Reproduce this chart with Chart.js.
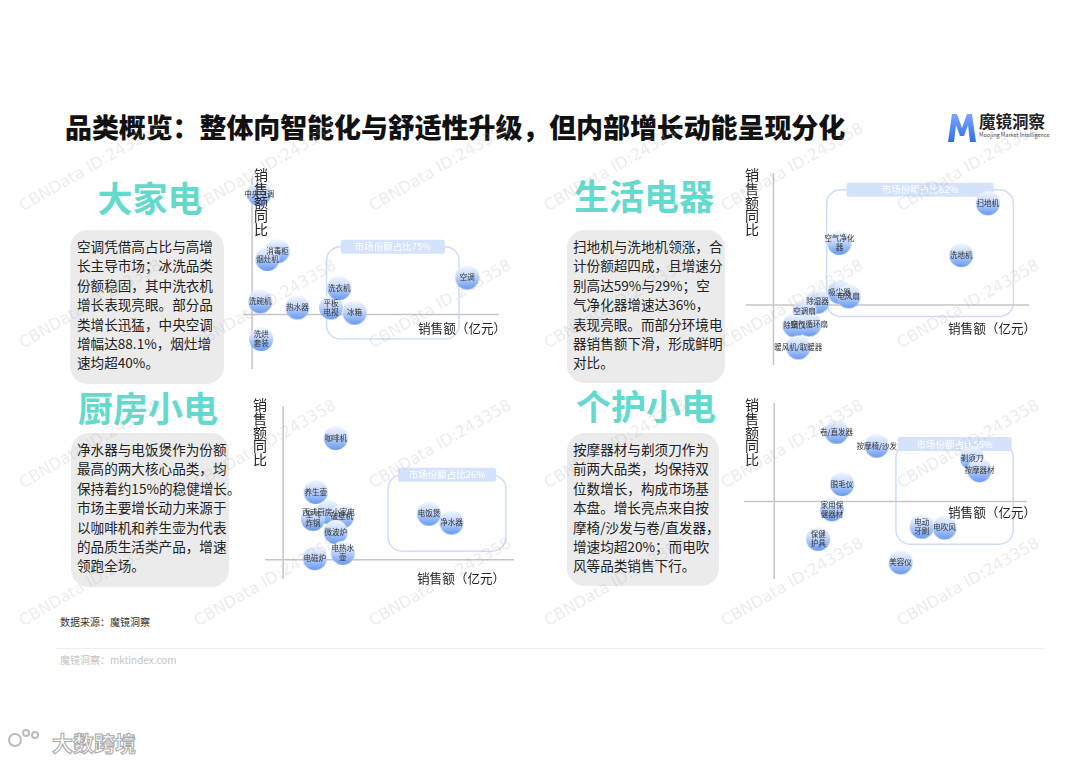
<!DOCTYPE html>
<html>
<head>
<meta charset="utf-8">
<script src="https://cdn.jsdelivr.net/npm/chart.js@4.4.1/dist/chart.umd.min.js"></script>
<style>
  body { margin: 0; background: #fff; }
  #page { position: relative; width: 1080px; height: 763px; overflow: hidden; font-family: "Noto Sans CJK SC", sans-serif; color: #222; }
  .abs { position: absolute; }
  #title { left: 65px; top: 109px; font-size: 27px; font-weight: 900; color: #111; white-space: nowrap; line-height: 36px; letter-spacing: -0.1px; }
  .cat { font-size: 35px; font-weight: 700; color: #63dacd; line-height: 40px; white-space: nowrap; transform: translateX(-50%); }
  .card { background: #ebebeb; border-radius: 18px; box-sizing: border-box; padding: 7px 0 0 7px; font-size: 13.6px; line-height: 19.4px; white-space: nowrap; color: #222; }
  .vlab { font-size: 14px; line-height: 13.8px; width: 16px; text-align: center; color: #222; }
  .hlab { font-size: 12.6px; line-height: 16px; color: #222; white-space: nowrap; }
  canvas { position: absolute; }
  .wm { position: absolute; font-family: "DejaVu Sans", sans-serif; font-size: 16px; color: rgba(170,170,170,0.22); transform-origin: 0 100%; transform: rotate(-30deg); white-space: nowrap; pointer-events: none; }
</style>
</head>
<body>
<div id="page">
  <div id="title" class="abs">品类概览：整体向智能化与舒适性升级，但内部增长动能呈现分化</div>

  <svg class="abs" style="left:947px;top:112px" width="30" height="31" viewBox="0 0 30 31">
    <defs><linearGradient id="lg" x1="0" y1="0" x2="0" y2="1"><stop offset="0" stop-color="#78a8ff"/><stop offset="1" stop-color="#2f6fe8"/></linearGradient></defs>
    <path d="M1 30 L5 2 L10 2 L15 16 L20 2 L25 2 L29 30 L23 30 L21 13 L17 24 L13 24 L9 13 L7 30 Z" fill="url(#lg)"/>
  </svg>
  <div class="abs" style="left:979px;top:111px;font-size:16.5px;font-weight:700;color:#222;line-height:20px;white-space:nowrap">魔镜洞察</div>
  <div class="abs" style="left:979px;top:132px;font-size:5.5px;color:#444;line-height:7px;white-space:nowrap">Moojing Market Intelligence</div>

  <div class="abs cat" style="left:150px;top:177px">大家电</div>
  <div class="abs cat" style="left:644px;top:175px">生活电器</div>
  <div class="abs cat" style="left:148px;top:387px">厨房小电</div>
  <div class="abs cat" style="left:646px;top:385px">个护小电</div>

  <div class="abs card" style="left:70px;top:230px;width:154px;height:154px">空调凭借高占比与高增<br>长主导市场；冰洗品类<br>份额稳固，其中洗衣机<br>增长表现亮眼。部分品<br>类增长迅猛，中央空调<br>增幅达88.1%，烟灶增<br>速均超40%。</div>
  <div class="abs card" style="left:567px;top:230px;width:158px;height:153px;padding-left:6px">扫地机与洗地机领涨，合<br>计份额超四成，且增速分<br>别高达59%与29%；空<br>气净化器增速达36%，<br>表现亮眼。而部分环境电<br>器销售额下滑，形成鲜明<br>对比。</div>
  <div class="abs card" style="left:71px;top:433px;width:158px;height:154px;padding-left:6px">净水器与电饭煲作为份额<br>最高的两大核心品类，均<br>保持着约15%的稳健增长。<br>市场主要增长动力来源于<br>以咖啡机和养生壶为代表<br>的品质生活类产品，增速<br>领跑全场。</div>
  <div class="abs card" style="left:567px;top:433px;width:152px;height:153px;padding-left:6px">按摩器材与剃须刀作为<br>前两大品类，均保持双<br>位数增长，构成市场基<br>本盘。增长亮点来自按<br>摩椅/沙发与卷/直发器，<br>增速均超20%；而电吹<br>风等品类销售下行。</div>

  <canvas id="c1" width="282" height="217" style="left:230px;top:165px"></canvas>
  <canvas id="c2" width="309" height="218" style="left:733px;top:160px"></canvas>
  <canvas id="c3" width="275" height="199" style="left:252px;top:393px"></canvas>
  <canvas id="c4" width="309" height="202" style="left:731px;top:390px"></canvas>

  <div class="abs vlab" style="left:253px;top:168px">销<br>售<br>额<br>同<br>比</div>
  <div class="abs vlab" style="left:744px;top:168px">销<br>售<br>额<br>同<br>比</div>
  <div class="abs vlab" style="left:252px;top:398px">销<br>售<br>额<br>同<br>比</div>
  <div class="abs vlab" style="left:744px;top:398px">销<br>售<br>额<br>同<br>比</div>
  <div class="abs hlab" style="left:418px;top:320px">销售额（亿元）</div>
  <div class="abs hlab" style="left:948px;top:320px">销售额（亿元）</div>
  <div class="abs hlab" style="left:417px;top:570px">销售额（亿元）</div>
  <div class="abs hlab" style="left:948px;top:504px">销售额（亿元）</div>

  <div class="abs" style="left:60px;top:615px;font-size:10px;color:#333;line-height:14px">数据来源：魔镜洞察</div>
  <div class="abs" style="left:55px;top:648px;width:990px;height:1px;background:#efefef"></div>
  <div class="abs" style="left:60px;top:653px;font-size:10px;color:#c4c4c4;line-height:14px">魔镜洞察：mktindex.com</div>

  <div class="abs" style="left:8px;top:733px;width:14px;height:14px;border:2px solid #bbb;border-radius:50%;box-sizing:border-box"></div>
  <div class="abs" style="left:22px;top:729px;width:8px;height:8px;border:2px solid #bbb;border-radius:50%;box-sizing:border-box"></div>
  <div class="abs" style="left:31px;top:731px;width:8px;height:8px;border:2px solid #bbb;border-radius:50%;box-sizing:border-box"></div>
  <div class="abs" style="left:52px;top:729px;font-size:21px;font-weight:700;color:#fff;line-height:26px;-webkit-text-stroke:1px #a8a8a8;white-space:nowrap">大数跨境</div>

  <div id="wms"></div>
</div>

<script>
// 大家电
const bigNames = ["中央空调", "消毒柜", "烟灶机", "洗碗机", "热水器", "平板\n电视", "洗衣机", "冰箱", "空调", "洗烘\n套装"];
const bigSales = [53, 187, 113, 60, 333, 580, 640, 753, 1580, 67];
const bigGrowth = [88.1, 46.3, 40.5, 9.6, 5.1, 5.1, 19.3, 1.3, 27, -18];
const bigShare = "市场份额占比75%";
const bigBox = [547, 1520, 49.5, -18];

// 生活电器
const lifeNames = ["扫地机", "洗地机", "空气净化\n器", "吸尘器", "电风扇", "除湿器", "空调扇", "空气循环扇", "除螨仪", "暖风机/取暖器"];
const lifeSales = [936, 820, 288, 288, 328, 192, 136, 156, 92, 108];
const lifeGrowth = [59, 29, 36, 7.7, 5.1, 2, -3.6, -11.2, -11.7, -24.5];
const lifeShare = "市场份额占比62%";
const lifeBox = [232, 1048, 66.8, -6.6];

// 厨房小电
const kitNames = ["咖啡机", "养生壶", "西式厨房小家电", "破壁机", "空气\n炸锅", "微波炉", "电热水\n壶", "电磁炉", "电饭煲", "净水器"];
const kitSales = [116, 72, 100, 130, 66, 116, 132, 70, 322, 372];
const kitGrowth = [43.8, 24.4, 17.2, 15.6, 14.7, 10, 2.5, 0.6, 16.6, 13.4];
const kitShare = "市场份额占比26%";
const kitBox = [232, 492, 30.6, 3.1];

// 个护小电
const careNames = ["卷/直发器", "按摩椅/沙发", "剃须刀", "按摩器材", "脱毛仪", "家用保\n健器材", "保健\n护具", "美容仪", "电动\n牙刷", "电吹风"];
const careSales = [227, 373, 720, 747, 247, 210, 160, 460, 537, 620];
const careGrowth = [27.6, 22.1, 17.2, 12.4, 6.9, -3.1, -14.8, -24.1, -10, -10.3];
const careShare = "市场份额占比55%";
const careBox = [443, 870, 22.8, -16.9];

// 气泡图案
function bubbleImage(r) {
  const c = document.createElement("canvas");
  c.width = c.height = r * 2 + 2;
  const g = c.getContext("2d");
  const grad = g.createLinearGradient(0, 1, 0, r * 2 + 1);
  grad.addColorStop(0, "#f4f8ff");
  grad.addColorStop(0.45, "#c2d7fa");
  grad.addColorStop(1, "#6698f0");
  g.fillStyle = grad;
  g.beginPath();
  g.arc(r + 1, r + 1, r, 0, Math.PI * 2);
  g.fill();
  return c;
}
const bubble = bubbleImage(12);

const quadrant = {
  id: "quadrant",
  beforeDatasetsDraw(chart, args, opts) {
    const { ctx, chartArea: a, scales: { x, y } } = chart;
    const x0 = x.getPixelForValue(0), y0 = y.getPixelForValue(0);
    const b = opts.box;
    const l = x.getPixelForValue(b[0]), r = x.getPixelForValue(b[1]);
    const t = y.getPixelForValue(b[2]), bt = y.getPixelForValue(b[3]);
    ctx.save();
    ctx.strokeStyle = "#cfdef7";
    ctx.lineWidth = 1.5;
    ctx.beginPath();
    ctx.roundRect(l, t, r - l, bt - t, 14);
    ctx.stroke();
    // 坐标轴
    ctx.strokeStyle = "#c6c6c6";
    ctx.lineWidth = 1.5;
    ctx.beginPath();
    ctx.moveTo(x0, a.top); ctx.lineTo(x0, a.bottom);
    ctx.moveTo(a.left, y0); ctx.lineTo(a.right, y0);
    ctx.stroke();
    // 份额标签
    const cx = (l + r) / 2, w = opts.headerWidth;
    ctx.fillStyle = "#d4e3fb";
    ctx.beginPath();
    ctx.roundRect(cx - w / 2, t - 7, w, 14, 2);
    ctx.fill();
    ctx.fillStyle = "#fff";
    ctx.font = '9.5px "Noto Sans CJK SC"';
    ctx.textAlign = "center";
    ctx.textBaseline = "middle";
    ctx.fillText(opts.share, cx, t);
    ctx.restore();
  },
  afterDatasetsDraw(chart) {
    const { ctx } = chart;
    const meta = chart.getDatasetMeta(0);
    ctx.save();
    ctx.fillStyle = "#333";
    ctx.font = '7.5px "Noto Sans CJK SC"';
    ctx.textAlign = "center";
    ctx.textBaseline = "middle";
    meta.data.forEach((pt, i) => {
      const lines = chart.data.labels[i].split("\n");
      lines.forEach((s, k) => {
        ctx.fillText(s, pt.x, pt.y + (k - (lines.length - 1) / 2) * 9);
      });
    });
    ctx.restore();
  }
};

function makeChart(id, names, sales, growth, box, share, xr, yr, headerWidth) {
  const ctx = document.getElementById(id).getContext("2d");
  return new Chart(ctx, {
    type: "scatter",
    data: {
      labels: names,
      datasets: [{
        data: sales.map((v, i) => ({ x: v, y: growth[i] })),
        pointStyle: bubble,
        pointRadius: 12,
        clip: false,
      }],
    },
    options: {
      responsive: false,
      animation: false,
      layout: { padding: 0 },
      events: [],
      scales: {
        x: { type: "linear", display: false, min: xr[0], max: xr[1] },
        y: { type: "linear", display: false, min: yr[0], max: yr[1] },
      },
      plugins: {
        legend: { display: false },
        tooltip: { enabled: false },
        quadrant: { box: box, share: share, headerWidth: headerWidth },
      },
    },
    plugins: [quadrant],
  });
}

makeChart("c1", bigNames, bigSales, bigGrowth, bigBox, bigShare, [-66.7, 1813.3], [-39.9, 99.7], 104);
makeChart("c2", lifeNames, lifeSales, lifeGrowth, lifeBox, lifeShare, [-120, 1116], [-34.7, 76.5], 147);
makeChart("c3", kitNames, kitSales, kitGrowth, kitBox, kitShare, [-40, 510], [-6.9, 55.3], 98);
makeChart("c4", careNames, careSales, careGrowth, careBox, careShare, [-110, 920], [-30.7, 39], 114);

// 水印
const wms = document.getElementById("wms");
[215, 352, 492, 630].forEach(y => {
  [25, 200, 375, 550, 727, 903].forEach(x => {
    const d = document.createElement("div");
    d.className = "wm";
    d.textContent = "CBNData ID:243358";
    d.style.left = x + "px";
    d.style.top = (y - 19) + "px";
    wms.appendChild(d);
  });
});
</script>
</body>
</html>
